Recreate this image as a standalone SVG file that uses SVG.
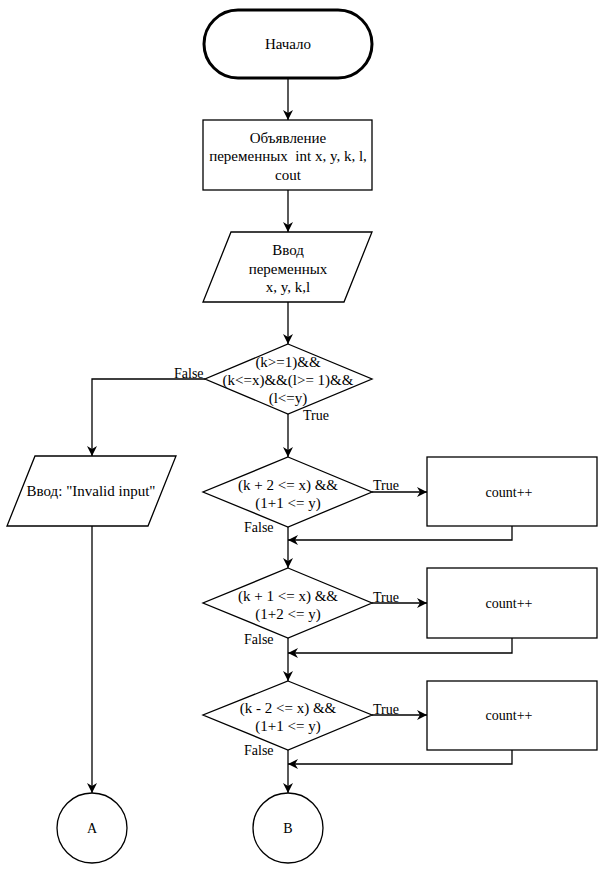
<svg xmlns="http://www.w3.org/2000/svg" width="601" height="869" viewBox="0 0 601 869">
<defs>
<marker id="arr" markerUnits="userSpaceOnUse" markerWidth="12" markerHeight="10" refX="10" refY="5" orient="auto">
<path d="M0,0 L10,5 L0,10 L3,5 Z" fill="#000"/>
</marker>
<style>
.s{fill:#fff;stroke:#000;stroke-width:1.3}
.t{font-family:"Liberation Serif","Times New Roman",serif;font-size:15px;fill:#000;text-anchor:middle}
.l{font-family:"Liberation Serif","Times New Roman",serif;font-size:14px;fill:#000}
.c{fill:none;stroke:#000;stroke-width:1.3;marker-end:url(#arr)}
</style>
</defs>
<rect width="601" height="869" fill="#fff"/>
<g id="connectors">
<path class="c" d="M288,78 L288,120"/>
<path class="c" d="M288,190 L288,232"/>
<path class="c" d="M288,302 L288,344"/>
<path class="c" d="M205,379 L92,379 L92,456"/>
<path class="c" d="M288,414 L288,457"/>
<path class="c" d="M372,492 L427,492"/>
<path class="c" d="M512,526 L512,540 L288,540"/>
<path class="c" d="M288,527 L288,568"/>
<path class="c" d="M372,603 L427,603"/>
<path class="c" d="M512,638 L512,653 L288,653"/>
<path class="c" d="M288,638 L288,681"/>
<path class="c" d="M372,715 L427,715"/>
<path class="c" d="M512,750 L512,764 L288,764"/>
<path class="c" d="M288,750 L288,793"/>
<path class="c" d="M92,526 L92,793"/>
<text class="l" x="174" y="378">False</text>
<text class="l" x="303" y="420">True</text>
<text class="l" x="373" y="490">True</text>
<text class="l" x="244" y="532">False</text>
<text class="l" x="373" y="602">True</text>
<text class="l" x="244" y="644">False</text>
<text class="l" x="373" y="714">True</text>
<text class="l" x="244" y="755">False</text>
</g>
<g id="start">
<rect x="204" y="10" width="168" height="68" rx="34" ry="34" fill="#fff" stroke="#000" stroke-width="3"/>
<text class="t" x="288" y="49">Начало</text>
</g>
<g id="declare">
<rect class="s" x="203" y="120" width="169" height="70"/>
<text class="t" x="288" y="143">Объявление</text>
<text class="t" x="288" y="161" xml:space="preserve">переменных  int x, y, k, l,</text>
<text class="t" x="288" y="180">cout</text>
</g>
<g id="input">
<polygon class="s" points="231,232 372,232 344,302 203,302"/>
<text class="t" x="288" y="255">Ввод</text>
<text class="t" x="288" y="274">переменных</text>
<text class="t" x="288" y="292">x, y, k,l</text>
</g>
<g id="check">
<polygon class="s" points="288,344 372,379 288,414 205,379"/>
<text class="t" x="288" y="367">(k&gt;=1)&amp;&amp;</text>
<text class="t" x="288" y="385">(k&lt;=x)&amp;&amp;(l&gt;= 1)&amp;&amp;</text>
<text class="t" x="288" y="403">(l&lt;=y)</text>
</g>
<g id="invalid">
<polygon class="s" points="35,456 176,456 148,526 7,526"/>
<text class="t" x="91" y="496">Ввод: "Invalid input"</text>
</g>
<g id="cond1">
<polygon class="s" points="288,457 372,492 288,527 203,492"/>
<text class="t" x="288" y="490">(k + 2 &lt;= x) &amp;&amp;</text>
<text class="t" x="288" y="508">(1+1 &lt;= y)</text>
</g>
<g id="count1">
<rect class="s" x="427" y="457" width="170" height="69"/>
<text class="t" x="509" y="497" style="font-size:14px">count++</text>
</g>
<g id="cond2">
<polygon class="s" points="288,568 372,603 288,638 203,603"/>
<text class="t" x="288" y="601">(k + 1 &lt;= x) &amp;&amp;</text>
<text class="t" x="288" y="619">(1+2 &lt;= y)</text>
</g>
<g id="count2">
<rect class="s" x="427" y="568" width="170" height="70"/>
<text class="t" x="509" y="608" style="font-size:14px">count++</text>
</g>
<g id="cond3">
<polygon class="s" points="288,681 372,715 288,750 203,715"/>
<text class="t" x="288" y="713">(k - 2 &lt;= x) &amp;&amp;</text>
<text class="t" x="288" y="731">(1+1 &lt;= y)</text>
</g>
<g id="count3">
<rect class="s" x="427" y="681" width="170" height="69"/>
<text class="t" x="509" y="720" style="font-size:14px">count++</text>
</g>
<g id="connA">
<circle class="s" cx="92" cy="828" r="35"/>
<text class="t" x="92" y="833" style="font-size:14px">A</text>
</g>
<g id="connB">
<circle class="s" cx="288" cy="828" r="35"/>
<text class="t" x="288" y="833" style="font-size:14px">B</text>
</g>
</svg>
